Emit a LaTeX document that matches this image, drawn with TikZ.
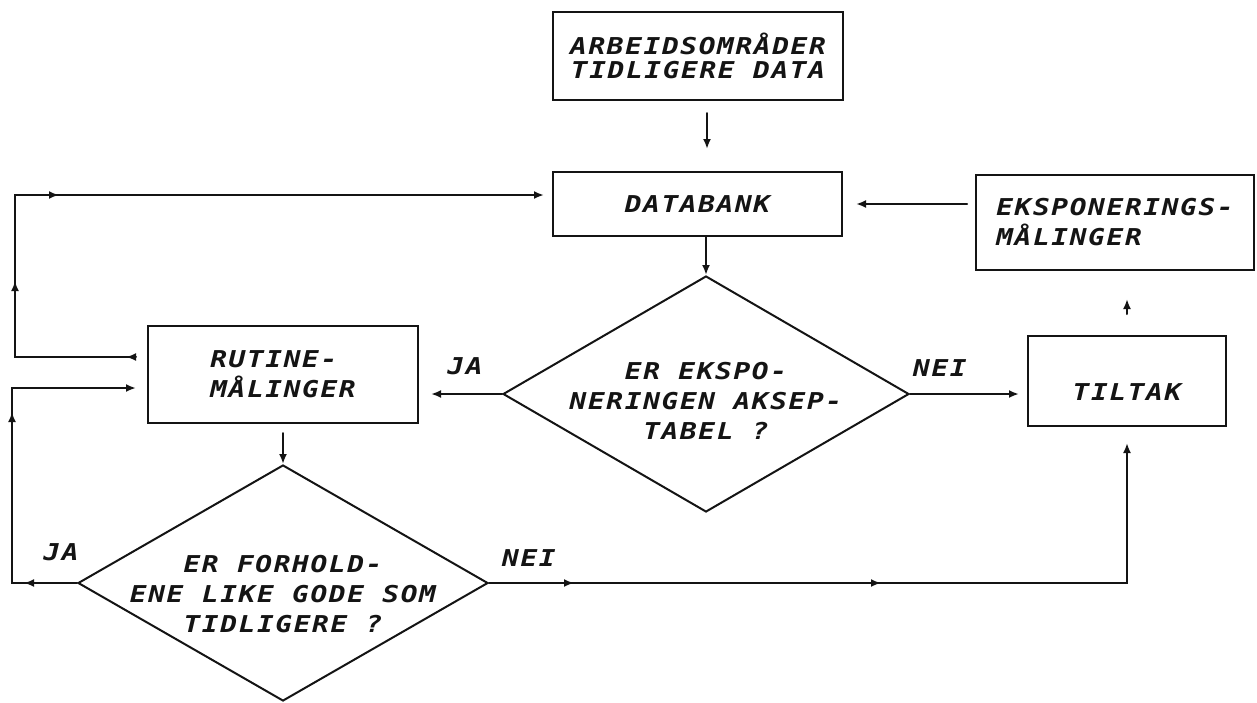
\documentclass[tikz,border=0pt]{standalone}
\usepackage{fontspec}
\usepackage{tikz}
\usetikzlibrary{arrows.meta, shapes.geometric, decorations.markings}
\newfontfamily\plotfont{DejaVu Sans Mono}[FakeStretch=1.2, LetterSpace=7]
\definecolor{inkc}{RGB}{20,20,20}

\begin{document}
\begin{tikzpicture}[x=0.5pt, y=-0.5pt, >={Latex[length=5pt,width=4pt]}, line cap=round,
  txt/.style={font=\plotfont\bfseries\itshape\fontsize{11.6pt}{15pt}\selectfont, text=inkc},
  box/.style={draw=inkc, line width=1pt, txt, align=left, inner sep=0pt},
  dia/.style={diamond, draw=inkc, line width=1pt, txt, align=center, inner sep=-10pt},
  flow/.style={draw=inkc, line width=1pt, ->},
  tipat/.style={postaction={decorate, decoration={markings, mark=at position #1 with {\arrow{>}}}}}]
  % picture in pixels of the scan (y down)
  \useasboundingbox (0,0) rectangle (1257,702);

  % boxes
  \node[box, align=center, minimum width=145pt, minimum height=44pt] (arb) at (698,56)
    {ARBEIDSOMRÅDER\\[-3pt]TIDLIGERE DATA};
  \node[box, minimum width=144.5pt, minimum height=32pt] (data) at (697.5,204) {DATABANK};
  \node[box, minimum width=139pt, minimum height=47.5pt] (eksp) at (1115,222.5)
    {EKSPONERINGS-\\MÅLINGER};
  \node[box, minimum width=135pt, minimum height=48.5pt] (rut) at (283,374.5)
    {RUTINE-\\MÅLINGER};
  \node[box, minimum width=99pt, minimum height=45pt] (tilt) at (1127,381) {};
  \node[txt] (tilttxt) at (1127,392) {TILTAK};

  % questions (text sits a bit low in the scan)
  \node[dia, aspect=1.72, minimum width=203pt, minimum height=118pt] (dia1) at (706,394)
    {\rule{0pt}{15pt}ER EKSPO-\\NERINGEN AKSEP-\\TABEL ?};
  \node[dia, aspect=1.74, minimum width=205pt, minimum height=118pt] (dia2) at (283,583)
    {\rule{0pt}{20pt}ER FORHOLD-\\ENE LIKE GODE SOM\\TIDLIGERE ?};

  % answers
  \node[txt] (ja1) at (465,366) {JA};
  \node[txt] (nei1) at (940,368) {NEI};
  \node[txt] (ja2) at (61,552) {JA};
  \node[txt] (nei2) at (529,558) {NEI};

  % straight arrows
  \draw[flow, shorten <=6pt, shorten >=11pt] ([xshift=4.5pt]arb.south) -- ([xshift=4.5pt]arb.south |- data.north);
  \draw[flow] (dia1.north |- data.south) -- (dia1.north);
  \draw[flow, shorten <=4.5pt] (dia2.north |- rut.south) -- (dia2.north);
  \draw[flow, shorten >=6pt] (dia1.west) -- (dia1.west -| rut.east);
  \draw[flow, shorten >=4pt] (dia1.east) -- (dia1.east -| tilt.west);
  \draw[flow, shorten <=10.5pt, shorten >=14pt] (tilt.north) -- (tilt.north |- eksp.south);
  \draw[flow, shorten <=4pt, shorten >=6.5pt] (data.east -| eksp.west) -- (data.east);

  % loops back on the left
  \coordinate (lpA) at (15,195);
  \coordinate (lpB) at (12,388);
  \draw[flow, tipat=5pt, tipat=98.5pt, tipat=163.5pt, shorten >=4pt]
    ([xshift=-5.5pt, yshift=8.75pt]rut.west) -| (lpA) -- (lpA -| data.west);
  \draw[flow, tipat=26.5pt, tipat=118pt, shorten >=5.5pt]
    (dia2.west) -| (lpB) -- (lpB -| rut.west);

  % nei from the second question up to tiltak
  \draw[flow, tipat=42.5pt, tipat=196pt, shorten >=8pt] (dia2.east) -| (tilt.south);
\end{tikzpicture}
\end{document}
